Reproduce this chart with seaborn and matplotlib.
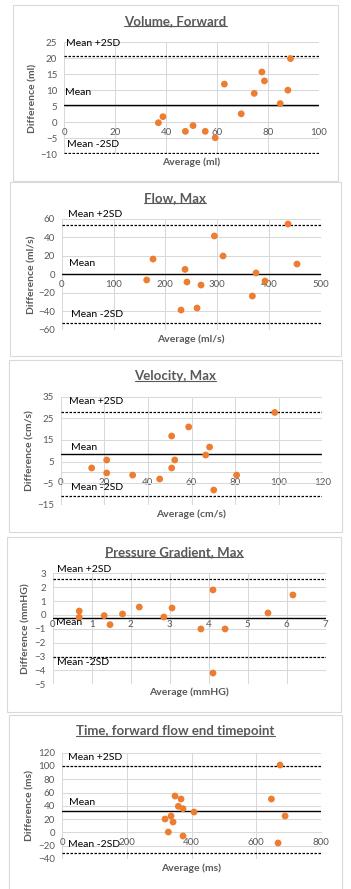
import numpy as np
import pandas as pd
import seaborn as sns
import matplotlib.pyplot as plt
from matplotlib.patches import Rectangle
from matplotlib.lines import Line2D

# Bland-Altman data: average vs difference

vol_avg = [37.0, 38.8, 47.6, 50.6, 55.4, 59.3, 62.9, 69.5, 74.6, 77.6, 78.6, 84.8, 87.8, 88.8]
vol_diff = [-0.2, 1.7, -2.9, -1.1, -2.9, -4.9, 11.9, 2.6, 9.0, 15.7, 12.9, 5.8, 10.0, 19.9]
vol_limits = [20.7, 5.5, -9.8]   # mean+2SD, mean, mean-2SD

flow_avg = [164.1, 176.3, 230.4, 238.1, 241.9, 261.3, 269.0, 294.7, 311.5, 368.1, 375.2, 392.5, 436.9, 454.3]
flow_diff = [-6.1, 16.6, -38.7, 5.4, -8.3, -36.5, -11.6, 41.6, 19.9, -23.5, 1.5, -7.2, 54.6, 11.2]
flow_limits = [53.1, 0.0, -53.1]

vel_avg = [14.2, 21.1, 21.1, 33.0, 45.4, 50.9, 50.9, 52.3, 58.7, 66.5, 68.3, 70.2, 80.7, 98.2]
vel_diff = [2.0, 5.7, -0.3, -1.3, -3.1, 16.8, 2.0, 5.7, 21.0, 8.0, 11.7, -8.2, -1.3, 27.7]
vel_limits = [27.7, 8.3, -11.1]

pg_avg = [0.68, 0.68, 1.32, 1.47, 1.79, 2.22, 2.85, 3.06, 3.80, 4.11, 4.11, 4.42, 5.52, 6.16]
pg_diff = [0.28, -0.17, -0.05, -0.70, 0.07, 0.57, -0.15, 0.50, -1.01, 1.80, -4.19, -1.01, 0.14, 1.44]
pg_limits = [2.59, -0.25, -3.06]

time_avg = [318.2, 328.5, 336.8, 343.0, 349.1, 359.4, 367.7, 373.8, 373.8, 407.8, 646.8, 667.4, 673.5, 689.0]
time_diff = [20.2, 0.6, 24.7, 15.7, 54.8, 39.3, 50.3, 35.7, -5.4, 30.7, 50.3, -15.9, 101.4, 24.7]
time_limits = [99.5, 31.5, -31.0]

titles = ['Volume, Forward', 'Flow, Max', 'Velocity, Max', 'Pressure Gradient, Max',
          'Time, forward flow end timepoint']
xlabels = ['Average (ml)', 'Average (ml/s)', 'Average (cm/s)', 'Average (mmHG)', 'Average (ms)']
ylabels = ['Difference (ml)', 'Difference (ml/s)', 'Difference (cm/s)', 'Difference (mmHG)',
           'Difference (ms)']
limit_labels = ['Mean +2SD', 'Mean', 'Mean -2SD']

all_avg = [vol_avg, flow_avg, vel_avg, pg_avg, time_avg]
all_diff = [vol_diff, flow_diff, vel_diff, pg_diff, time_diff]
all_limits = [vol_limits, flow_limits, vel_limits, pg_limits, time_limits]

# layout (pixels of the 351x889 picture) and axis settings
layout = [
    dict(box=(13, 5, 338, 181), plot=(64, 42.3, 319, 154), title_y=21, xlab_y=162.7, ylab_x=33,
         xlim=(0, 100, 20), ylim=(-10, 25, 5), lab_x=[0.9, 0.4, 1.3], lab_y=[24.7, 9.2, -6.9]),
    dict(box=(10, 182.3, 340.7, 356), plot=(61.7, 219, 320.7, 329.7), title_y=198.3, xlab_y=339, ylab_x=31.7,
         xlim=(0, 500, 100), ylim=(-60, 60, 20), lab_x=[13, 14, 17], lab_y=[64.7, 11.6, -43]),
    dict(box=(9, 360, 342, 532), plot=(60.7, 396.7, 322.3, 504.7), title_y=375.7, xlab_y=514, ylab_x=30,
         xlim=(0, 120, 20), ylim=(-15, 35, 10), lab_x=[4.0, 4.6, 4.6], lab_y=[32.7, 11.4, -7.1]),
    dict(box=(7, 537, 341, 712), plot=(52.7, 573.3, 325.7, 684.3), title_y=551.7, xlab_y=692.7, ylab_x=26,
         xlim=(0, 7, 1), ylim=(-5, 3, 1), lab_x=[0.10, 0.085, 0.12], lab_y=[3.24, -0.56, -3.42]),
    dict(box=(9, 715, 342, 895), plot=(62, 752.7, 321, 859), title_y=730.7, xlab_y=868.3, ylab_x=30,
         xlim=(0, 800, 200), ylim=(-40, 120, 20), lab_x=[19.6, 22.7, 17.5], lab_y=[112.5, 44.8, -17.9]),
]

W, H = 351, 889
sns.set_style('white')
plt.rcParams['font.family'] = ['Lato', 'DejaVu Sans']

grey = '#595959'
grid = '#D9D9D9'
orange = '#ED7D31'

fig = plt.figure(figsize=(W / 100, H / 100), dpi=100)

title_texts = []
for i in range(5):
    L = layout[i]
    bx0, by0, bx1, by1 = L['box']
    fig.add_artist(Rectangle((bx0 / W, 1 - by1 / H), (bx1 - bx0) / W, (by1 - by0) / H,
                             transform=fig.transFigure, fill=False, edgecolor=grid, lw=0.8))
    px0, py0, px1, py1 = L['plot']
    ax = fig.add_axes([px0 / W, 1 - py1 / H, (px1 - px0) / W, (py1 - py0) / H])

    df = pd.DataFrame({'avg': all_avg[i], 'diff': all_diff[i]})
    sns.scatterplot(data=df, x='avg', y='diff', ax=ax, color=orange, s=24, edgecolor='none', zorder=5)

    up, mean, low = all_limits[i]
    ax.axhline(up, color='black', lw=0.9, ls=(0, (2, 1.2)), zorder=3)
    ax.axhline(mean, color='black', lw=1.0, zorder=3)
    ax.axhline(low, color='black', lw=0.9, ls=(0, (2, 1.2)), zorder=3)
    for txt, lx, ly in zip(limit_labels, L['lab_x'], L['lab_y']):
        ax.text(lx, ly, txt, ha='left', va='center', fontsize=7.5, color='black', zorder=6)

    x0, x1, xs = L['xlim']
    y0, y1, ys = L['ylim']
    ax.set_xlim(x0, x1)
    ax.set_ylim(y0, y1)
    ax.set_xticks(np.arange(x0, x1 + xs / 2, xs))
    ax.set_yticks(np.arange(y0, y1 + ys / 2, ys))
    ax.grid(True, color=grid, lw=0.75)
    ax.set_axisbelow(True)
    for s in ['top', 'right', 'left']:
        ax.spines[s].set_visible(False)
    ax.spines['bottom'].set_position(('data', 0))
    ax.spines['bottom'].set_color(grid)
    ax.spines['bottom'].set_linewidth(0.75)
    ax.tick_params(axis='both', length=0, labelsize=7, labelcolor=grey)
    ax.tick_params(axis='x', pad=4)
    ax.tick_params(axis='y', pad=5)

    ax.set_xlabel(xlabels[i], fontsize=7.5, color=grey, fontweight='bold')
    ax.set_ylabel(ylabels[i], fontsize=7.5, color=grey, fontweight='bold')
    ax.xaxis.set_label_coords(0.5 * (px0 + px1) / W, 1 - L['xlab_y'] / H, transform=fig.transFigure)
    ax.yaxis.set_label_coords(L['ylab_x'] / W, 1 - 0.5 * (py0 + py1) / H, transform=fig.transFigure)
    ax.xaxis.label.set_va('center')
    ax.yaxis.label.set_va('center')

    t = fig.text(0.5 * (bx0 + bx1) / W, 1 - L['title_y'] / H, titles[i], ha='center', va='center',
                 fontsize=9.5, color=grey, fontweight='bold')
    title_texts.append(t)

# underline the titles
fig.canvas.draw()
r = fig.canvas.get_renderer()
for t in title_texts:
    bb = t.get_window_extent(r).transformed(fig.transFigure.inverted())
    yline = bb.y0 + 0.8 / H
    fig.add_artist(Line2D([bb.x0, bb.x1], [yline, yline], transform=fig.transFigure, color=grey, lw=0.8))

fig.savefig('out.png', dpi=100)
